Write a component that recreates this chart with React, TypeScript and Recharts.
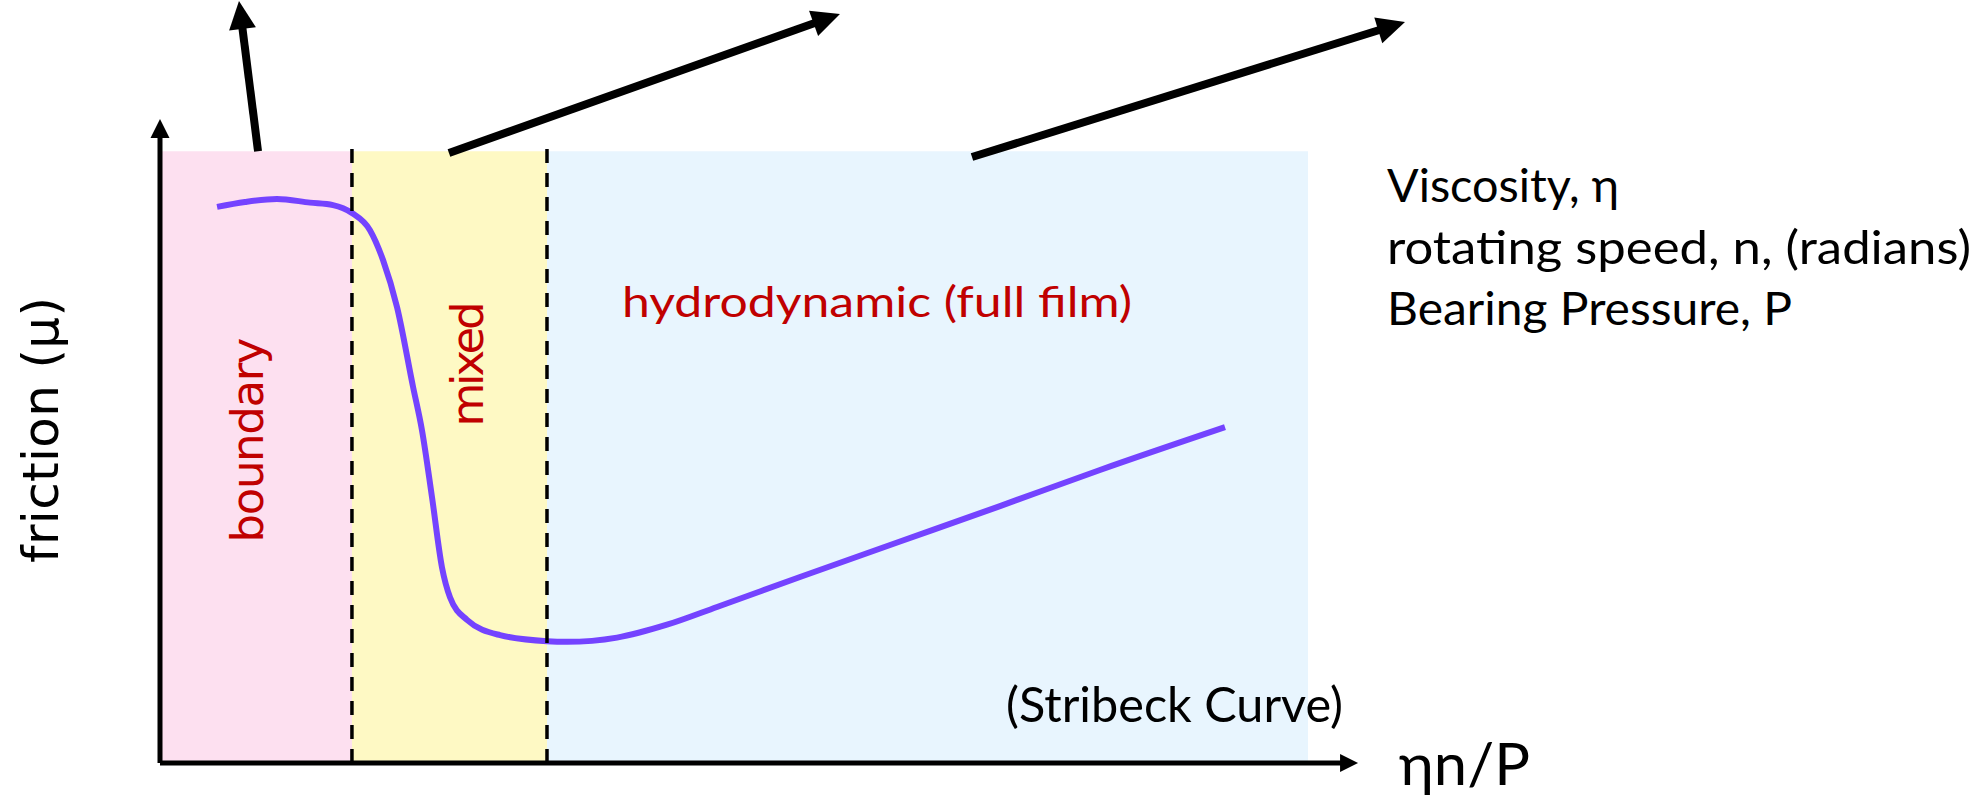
import { ComposedChart, Line, XAxis, YAxis, ReferenceArea, ReferenceLine } from 'recharts'

// Stribeck curve: friction vs ηn/P (arbitrary units, 0..100)
const etaNP = [4.97, 7.4, 10.19, 13.07, 15.07, 16.72, 18.29, 19.43, 20.65, 22.04, 22.82, 23.69, 24.56, 25.26, 26.74, 29.62, 33.71, 35.45, 39.81, 44.16, 48.52, 55.75, 64.46, 73.17, 81.88, 92.77]
const friction = [90.9, 91.7, 92.2, 91.6, 91.2, 89.9, 87.1, 82.2, 74.5, 61.5, 54.4, 43.5, 32.0, 27.1, 23.4, 20.9, 19.9, 19.8, 20.5, 22.6, 25.5, 30.4, 36.2, 42.0, 47.9, 54.9]

const regimeNames = ['boundary', 'mixed', 'hydrodynamic (full film)']
const regimeEdges = [0, 16.72, 33.71, 100]
const regimeColors = ['#fde0f0', '#fef9c4', '#e8f5fe']

const variableNotes = ['Viscosity, η', 'rotating speed, n, (radians)', 'Bearing Pressure, P']

// annotation arrows in data units [x, y]
const arrowFrom = [[8.54, 100.0], [25.17, 99.71], [70.73, 99.05]]
const arrowTo = [[6.88, 124.55], [59.23, 122.43], [108.45, 121.12]]

const data = etaNP.map((x, i) => ({ x, mu: friction[i] }))

const RED = '#c00000'
const SANS = '"DejaVu Sans", Verdana, sans-serif'
const CAL = 'Lato, "Open Sans", sans-serif'

function arrowShape(head: number, width: number) {
  return (props: any) => {
    const { x1, y1, x2, y2, stroke, strokeWidth } = props
    const dx = x2 - x1
    const dy = y2 - y1
    const len = Math.hypot(dx, dy) || 1
    const ux = dx / len
    const uy = dy / len
    const bx = x2 - ux * head
    const by = y2 - uy * head
    const px = -uy * width / 2
    const py = ux * width / 2
    return (
      <g>
        <line x1={x1} y1={y1} x2={bx + ux * 2} y2={by + uy * 2} stroke={stroke} strokeWidth={strokeWidth} />
        <polygon points={`${x2},${y2} ${bx + px},${by + py} ${bx - px},${by - py}`} fill={stroke} />
      </g>
    )
  }
}

export default function App() {
  return (
    <div style={{ position: 'absolute', left: 0, top: 0, width: 1977, height: 803, background: '#fff' }}>
      <ComposedChart
        width={1977}
        height={803}
        data={data}
        margin={{ top: 139, right: 669, left: 160, bottom: 40 }}
      >
        <XAxis dataKey="x" type="number" domain={[0, 100]} hide />
        <YAxis type="number" domain={[0, 102]} hide />
        {regimeNames.map((name, i) => (
          <ReferenceArea
            key={name}
            x1={regimeEdges[i]}
            x2={regimeEdges[i + 1]}
            y1={0}
            y2={100}
            fill={regimeColors[i]}
            fillOpacity={1}
            stroke="none"
          />
        ))}
        <Line dataKey="mu" type="monotone" stroke="#7443ff" strokeWidth={6} dot={false} activeDot={false} isAnimationActive={false} />
        {regimeEdges.slice(1, 3).map(e => (
          <ReferenceLine
            key={e}
            segment={[{ x: e, y: 0 }, { x: e, y: 102 }]}
            stroke="#000"
            strokeWidth={3.5}
            strokeDasharray="14 10"
            ifOverflow="visible"
          />
        ))}
        {/* axes */}
        <ReferenceLine segment={[{ x: 0, y: 0 }, { x: 0, y: 105.26 }]} stroke="#000" strokeWidth={5} ifOverflow="visible" shape={arrowShape(19, 19)} />
        <ReferenceLine segment={[{ x: 0, y: 0 }, { x: 104.36, y: 0 }]} stroke="#000" strokeWidth={5} ifOverflow="visible" shape={arrowShape(18, 18)} />
        {arrowFrom.map((f, i) => (
          <ReferenceLine
            key={i}
            segment={[{ x: f[0], y: f[1] }, { x: arrowTo[i][0], y: arrowTo[i][1] }]}
            stroke="#000"
            strokeWidth={8}
            ifOverflow="visible"
            shape={arrowShape(28, 27)}
          />
        ))}
      </ComposedChart>
      <svg width={1977} height={803} style={{ position: 'absolute', left: 0, top: 0, pointerEvents: 'none' }}>
        <text x={58} y={430} transform="rotate(-90 58 430)" textAnchor="middle" fontFamily={SANS} fontSize={50} fill="#000" textLength={266}>
          friction (μ)
        </text>
        <text x={263} y={440} transform="rotate(-90 263 440)" textAnchor="middle" fontFamily={SANS} fontSize={45} fill={RED} textLength={205}>
          {regimeNames[0]}
        </text>
        <text x={483} y={364} transform="rotate(-90 483 364)" textAnchor="middle" fontFamily={SANS} fontSize={45} fill={RED} textLength={125}>
          {regimeNames[1]}
        </text>
        <text x={622} y={317} fontFamily={CAL} fontSize={43} fill={RED} textLength={510} lengthAdjust="spacingAndGlyphs">
          {regimeNames[2]}
        </text>
        {variableNotes.map((t, i) => (
          <text key={t} x={1387} y={202 + i * 61.5} fontFamily={CAL} fontSize={47} fill="#000" textLength={[232, 584, 405][i]} lengthAdjust="spacingAndGlyphs">
            {t}
          </text>
        ))}
        <text x={1006} y={722} fontFamily={CAL} fontSize={48} fill="#000" textLength={337} lengthAdjust="spacingAndGlyphs">
          (Stribeck Curve)
        </text>
        <text x={1399} y={785} fontFamily={CAL} fontSize={58} fill="#000" textLength={131} lengthAdjust="spacingAndGlyphs">
          ηn/P
        </text>
      </svg>
    </div>
  )
}
